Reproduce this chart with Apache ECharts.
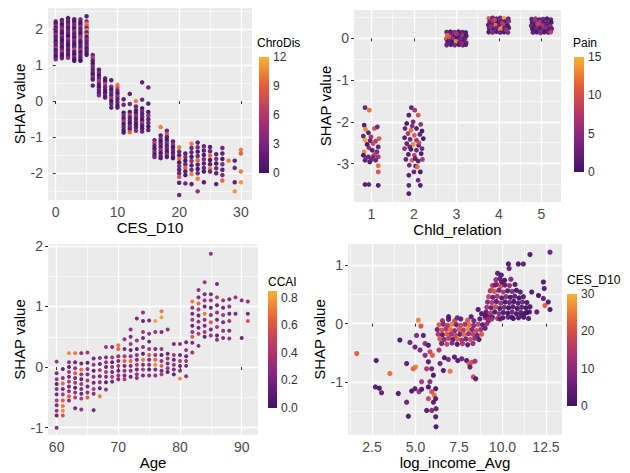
<!DOCTYPE html>
<html>
<head>
<meta charset="utf-8">
<script src="https://cdn.jsdelivr.net/npm/echarts@6/dist/echarts.min.js"></script>
<style>
  html, body { margin: 0; background: #fff; }
  #chart { width: 630px; height: 473px; }
</style>
</head>
<body>
<div id="chart"></div>
<script>
// [CES_D10, SHAP value, ChroDis]
const cesPoints = [
  [0,2.21,2],[0,2.15,0],[0,2.09,4],[0,2.03,1],[0,1.97,3],[0,1.9,0],[0,1.84,5],[0,1.78,1],[0,1.72,2],[0,1.65,0],[0,1.6,3],[0,1.53,1],[0,1.47,6],[0,1.41,0],[0,1.35,2],[0,1.28,1],[0,1.22,0],[0,1.16,3],
  [1,2.25,1],[1,2.18,3],[1,2.12,0],[1,2.05,2],[1,1.99,5],[1,1.93,1],[1,1.86,0],[1,1.8,4],[1,1.74,2],[1,1.68,0],[1,1.61,1],[1,1.55,3],[1,1.49,0],[1,1.43,2],[1,1.37,5],[1,1.3,1],[1,1.24,0],[1,1.19,2],
  [2,2.3,0],[2,2.23,2],[2,2.16,1],[2,2.1,4],[2,2.03,0],[2,1.97,2],[2,1.9,3],[2,1.84,1],[2,1.78,0],[2,1.71,6],[2,1.65,2],[2,1.58,1],[2,1.52,0],[2,1.46,3],[2,1.4,1],[2,1.33,2],[2,1.26,0],[2,1.2,4],
  [3,2.27,1],[3,2.2,0],[3,2.14,3],[3,2.07,2],[3,2.0,0],[3,1.94,5],[3,1.87,1],[3,1.81,2],[3,1.75,0],[3,1.68,4],[3,1.62,1],[3,1.55,0],[3,1.49,2],[3,1.42,7],[3,1.36,1],[3,1.29,0],[3,1.22,3],[3,1.16,1],[3,1.12,0],
  [4,2.26,2],[4,2.19,1],[4,2.13,0],[4,2.06,4],[4,2.0,1],[4,1.93,2],[4,1.87,0],[4,1.8,3],[4,1.74,6],[4,1.67,1],[4,1.61,0],[4,1.54,2],[4,1.48,1],[4,1.41,5],[4,1.35,0],[4,1.28,2],[4,1.21,1],[4,1.15,3],[4,1.12,0],
  [5,2.35,1],[5,2.21,3],[5,2.14,10],[5,2.08,9],[5,2.02,2],[5,1.96,11],[5,1.9,1],[5,1.84,8],[5,1.77,0],[5,1.71,4],[5,1.65,2],[5,1.58,1],[5,1.52,3],[5,1.46,0],[5,1.4,2],[5,1.34,1],[5,1.28,0],
  [6,1.28,2],[6,1.2,6],[6,1.12,1],[6,1.04,0],[6,0.96,3],[6,0.88,1],[6,0.8,2],[6,0.73,0],[6,0.66,4],[6,0.6,1],[6,0.43,1],
  [7,0.87,1],[7,0.79,3],[7,0.71,0],[7,0.63,2],[7,0.55,5],[7,0.47,1],[7,0.39,0],[7,0.31,2],[7,0.23,1],[7,0.16,3],
  [8,0.63,1],[8,0.55,0],[8,0.47,7],[8,0.39,2],[8,0.31,1],[8,0.23,0],[8,0.16,3],[8,0.1,1],
  [9,0.58,1],[9,0.4,3],[9,0.32,0],[9,0.24,2],[9,0.16,1],[9,0.08,5],[9,0.0,0],[9,-0.08,2],[9,-0.18,1],
  [10,0.45,10],[10,0.37,8],[10,0.29,2],[10,0.21,0],[10,0.13,4],[10,0.05,1],[10,-0.03,2],[10,-0.12,0],[10,-0.18,1],
  [11,0.05,1],[11,-0.1,2],[11,-0.32,0],[11,-0.4,3],[11,-0.48,1],[11,-0.56,5],[11,-0.64,0],[11,-0.72,2],[11,-0.8,1],[11,-0.87,0],
  [12,0.2,1],[12,-0.08,2],[12,-0.3,0],[12,-0.38,6],[12,-0.46,1],[12,-0.54,2],[12,-0.62,0],[12,-0.7,3],[12,-0.78,1],[12,-0.86,9],
  [13,0.0,10],[13,-0.15,2],[13,-0.25,1],[13,-0.33,0],[13,-0.41,4],[13,-0.49,1],[13,-0.57,2],[13,-0.65,0],[13,-0.73,1],[13,-0.82,3],
  [14,0.52,1],[14,0.04,2],[14,-0.2,0],[14,-0.28,3],[14,-0.36,1],[14,-0.44,2],[14,-0.52,0],[14,-0.6,5],[14,-0.68,1],[14,-0.76,0],[14,-0.84,2],
  [15,0.38,2],[15,-0.07,1],[15,-0.3,0],[15,-0.4,4],[15,-0.5,1],[15,-0.6,2],[15,-0.7,0],[15,-0.8,1],
  [16,-1.08,2],[16,-1.16,6],[16,-1.24,1],[16,-1.32,0],[16,-1.4,3],[16,-1.48,1],[16,-1.55,2],
  [17,-0.72,10],[17,-0.95,1],[17,-1.04,3],[17,-1.12,0],[17,-1.2,2],[17,-1.28,1],[17,-1.36,5],[17,-1.44,0],[17,-1.52,2],[17,-1.58,1],
  [18,-0.82,2],[18,-0.92,8],[18,-1.0,1],[18,-1.08,0],[18,-1.16,3],[18,-1.24,1],[18,-1.32,2],[18,-1.4,0],[18,-1.48,4],[18,-1.55,1],
  [19,-1.12,1],[19,-1.2,5],[19,-1.28,0],[19,-1.36,2],[19,-1.44,1],[19,-1.52,3],[19,-1.58,0],
  [20,-1.28,10],[20,-1.4,2],[20,-1.5,1],[20,-1.6,9],[20,-1.7,0],[20,-1.8,3],[20,-1.9,1],[20,-2.0,2],[20,-2.1,8],[20,-2.26,1],[20,-2.6,2],
  [21,-1.45,1],[21,-1.55,3],[21,-1.65,0],[21,-1.75,2],[21,-1.85,9],[21,-1.95,1],[21,-2.05,0],[21,-2.28,2],
  [22,-1.18,10],[22,-1.3,2],[22,-1.42,1],[22,-1.54,0],[22,-1.66,4],[22,-1.78,1],[22,-1.9,2],[22,-2.02,10],[22,-2.3,1],
  [23,-1.15,1],[23,-1.28,3],[23,-1.4,0],[23,-1.52,2],[23,-1.64,9],[23,-1.76,1],[23,-1.88,0],[23,-2.0,2],[23,-2.15,10],[23,-2.5,4],
  [24,-1.25,2],[24,-1.37,1],[24,-1.49,0],[24,-1.61,3],[24,-1.73,1],[24,-1.85,2],[24,-1.95,0],[24,-2.25,1],
  [25,-1.27,1],[25,-1.39,2],[25,-1.51,9],[25,-1.63,0],[25,-1.75,1],[25,-1.87,10],[25,-1.95,2],
  [26,-1.47,1],[26,-1.6,3],[26,-1.73,0],[26,-1.86,2],[26,-2.0,1],[26,-2.3,1],
  [27,-1.3,2],[27,-1.45,1],[27,-1.6,0],[27,-1.75,3],[27,-1.9,1],[27,-2.05,2],[27,-2.2,9],
  [28,-1.65,10],
  [29,-1.65,1],[29,-1.85,2],[29,-2.25,1],[29,-2.5,11],
  [30,-1.35,10],[30,-1.45,9],[30,-1.95,10],[30,-2.25,11]
];

// [Chld_relation (jittered), SHAP value, Pain]
const chldPoints = [
  [0.85,-1.66,2],[0.95,-1.72,12],[0.83,-2.08,1],[0.86,-2.18,13],[1.07,-2.16,10],[1.14,-2.12,3],[0.93,-2.26,1],[0.81,-2.34,2],[0.99,-2.36,6],[0.85,-2.44,14],[1.1,-2.46,7],[1.18,-2.4,11],[0.9,-2.54,0],[1.04,-2.52,9],[1.16,-2.6,2],[0.94,-2.62,5],[0.83,-2.72,13],[1.02,-2.68,1],[1.13,-2.72,3],[0.81,-2.8,0],[0.93,-2.84,2],[1.05,-2.82,1],[1.16,-2.84,6],[0.85,-2.92,1],[0.96,-2.96,0],[1.1,-2.92,2],[1.16,-3.05,12],[1.16,-3.2,10],[0.85,-3.5,1],[0.94,-3.5,2],[1.16,-3.52,1],[0.88,-2.86,4],[1.0,-2.9,3],[1.08,-2.78,8],[0.97,-2.45,2],
  [1.94,-1.66,2],[2.02,-1.72,6],[1.88,-1.84,1],[2.1,-1.84,10],[1.83,-2.04,0],[1.98,-2.0,3],[2.16,-2.06,5],[1.79,-2.16,2],[1.93,-2.2,12],[2.06,-2.16,1],[2.19,-2.22,0],[1.86,-2.28,7],[2.01,-2.32,11],[2.14,-2.3,2],[1.78,-2.38,1],[1.91,-2.42,3],[2.06,-2.44,6],[2.22,-2.4,0],[1.83,-2.52,2],[1.98,-2.54,13],[2.11,-2.56,1],[1.78,-2.64,5],[1.93,-2.66,0],[2.06,-2.68,2],[2.19,-2.64,3],[1.87,-2.78,1],[2.01,-2.8,8],[2.17,-2.76,0],[1.81,-2.9,2],[1.95,-2.92,11],[2.1,-2.94,1],[1.89,-3.04,3],[2.04,-3.06,0],[2.08,-3.08,12],[1.88,-3.28,1],[2.0,-3.2,2],[2.15,-3.2,0],[2.1,-3.4,3],[2.15,-3.52,1],[1.88,-3.52,2],[1.88,-3.72,1],[1.96,-2.1,4],[2.12,-2.5,9],[1.9,-2.6,2],[2.03,-2.88,1],[2.2,-2.9,6],
  [2.77,0.15,2],[2.86,0.16,1],[2.95,0.15,4],[3.05,0.16,0],[3.14,0.15,2],[3.22,0.14,1],[2.78,0.07,12],[2.88,0.08,3],[2.97,0.06,1],[3.07,0.08,2],[3.16,0.07,6],[3.23,0.06,0],[2.76,-0.01,10],[2.84,0.0,2],[2.93,-0.02,5],[3.02,0.01,1],[3.11,-0.01,3],[3.2,0.0,2],[2.79,-0.08,1],[2.89,-0.09,0],[2.99,-0.07,13],[3.08,-0.09,2],[3.17,-0.08,1],[3.23,-0.1,4],[2.77,-0.16,2],[2.87,-0.15,1],[2.96,-0.16,3],[3.06,-0.15,0],[3.15,-0.16,2],[3.22,-0.15,1],[2.82,0.04,11],[3.0,0.11,7],[3.12,-0.12,5],
  [3.76,0.48,11],[3.85,0.49,2],[3.94,0.47,1],[4.03,0.49,3],[4.12,0.48,14],[4.22,0.47,2],[3.78,0.4,3],[3.87,0.41,6],[3.96,0.39,0],[4.05,0.41,2],[4.14,0.4,1],[4.23,0.41,5],[3.75,0.32,1],[3.84,0.33,2],[3.93,0.31,12],[4.02,0.33,1],[4.11,0.32,7],[4.2,0.31,0],[3.77,0.24,2],[3.86,0.23,0],[3.95,0.25,3],[4.04,0.23,13],[4.13,0.24,2],[4.23,0.25,1],[3.76,0.15,0],[3.85,0.14,4],[3.94,0.16,1],[4.03,0.14,2],[4.12,0.15,0],[4.21,0.14,3],[3.9,0.44,9],[4.08,0.36,8],[3.81,0.28,5],[4.17,0.2,6],
  [4.77,0.46,2],[4.86,0.47,5],[4.95,0.45,1],[5.04,0.46,3],[5.13,0.47,0],[5.22,0.45,2],[4.78,0.38,1],[4.87,0.37,3],[4.96,0.39,7],[5.05,0.38,1],[5.14,0.37,2],[5.23,0.38,0],[4.76,0.3,3],[4.85,0.31,0],[4.94,0.29,2],[5.03,0.31,6],[5.12,0.3,1],[5.21,0.29,4],[4.79,0.22,0],[4.88,0.21,2],[4.97,0.23,1],[5.06,0.21,3],[5.15,0.22,0],[5.24,0.23,2],[4.8,0.14,2],[4.89,0.15,1],[4.98,0.13,4],[5.07,0.15,0],[5.16,0.14,2],[5.22,0.15,8],[4.91,0.34,9],[5.1,0.26,5]
];

// [Age, SHAP value, CCAI]
const agePoints = [
  [60,0.09,0.3],[60,-0.1,0.2],[60,-0.2,0.35],[60,-0.28,0.1],[60,-0.36,0.3],[60,-0.45,0.15],[60,-0.55,0.4],[60,-0.63,0.2],[60,-0.72,0.3],[60,-0.8,0.1],[60,-1.0,0.25],
  [61,-0.03,0.1],[61,-0.18,0.3],[61,-0.27,0.65],[61,-0.36,0.2],[61,-0.45,0.35],[61,-0.55,0.6],[61,-0.64,0.7],[61,-0.72,0.75],[61,-0.8,0.55],
  [62,0.23,0.75],[62,0.08,0.3],[62,0.0,0.1],[62,-0.08,0.35],[62,-0.16,0.2],[62,-0.24,0.4],[62,-0.32,0.15],[62,-0.4,0.3],[62,-0.48,0.6],[62,-0.55,0.25],
  [63,0.23,0.7],[63,0.08,0.15],[63,-0.02,0.3],[63,-0.1,0.6],[63,-0.18,0.2],[63,-0.26,0.35],[63,-0.34,0.1],[63,-0.42,0.3],[63,-0.5,0.4],[63,-0.68,0.2],
  [64,0.23,0.3],[64,0.06,0.2],[64,-0.04,0.65],[64,-0.12,0.3],[64,-0.2,0.1],[64,-0.28,0.35],[64,-0.36,0.25],[64,-0.44,0.15],[64,-0.52,0.4],[64,-0.7,0.3],
  [65,0.24,0.35],[65,0.07,0.1],[65,-0.03,0.3],[65,-0.12,0.2],[65,-0.22,0.4],[65,-0.32,0.15],[65,-0.42,0.3],[65,-0.5,0.6],
  [66,0.14,0.2],[66,0.04,0.35],[66,-0.06,0.1],[66,-0.16,0.3],[66,-0.26,0.2],[66,-0.36,0.4],[66,-0.44,0.25],[66,-0.71,0.15],
  [67,0.15,0.3],[67,0.05,0.15],[67,-0.05,0.35],[67,-0.15,0.2],[67,-0.25,0.3],[67,-0.35,0.1],[67,-0.48,0.7],
  [68,0.33,0.35],[68,0.16,0.2],[68,0.08,0.3],[68,0.0,0.15],[68,-0.08,0.4],[68,-0.16,0.25],[68,-0.25,0.1],[68,-0.37,0.3],
  [69,0.33,0.2],[69,0.16,0.35],[69,0.08,0.1],[69,0.0,0.3],[69,-0.08,0.2],[69,-0.16,0.4],[69,-0.24,0.15],
  [70,0.36,0.7],[70,0.3,0.65],[70,0.18,0.3],[70,0.1,0.2],[70,0.02,0.35],[70,-0.06,0.15],[70,-0.14,0.3],[70,-0.2,0.2],
  [71,0.46,0.3],[71,0.3,0.2],[71,0.18,0.35],[71,0.1,0.6],[71,0.02,0.15],[71,-0.06,0.3],[71,-0.14,0.2],[71,-0.2,0.35],
  [72,0.62,0.3],[72,0.5,0.2],[72,0.38,0.35],[72,0.28,0.1],[72,0.18,0.3],[72,0.1,0.65],[72,0.02,0.2],[72,-0.06,0.3],[72,-0.16,0.15],
  [73,0.8,0.2],[73,0.44,0.35],[73,0.3,0.1],[73,0.2,0.3],[73,0.12,0.2],[73,0.04,0.4],[73,-0.04,0.15],[73,-0.12,0.3],[73,-0.18,0.25],
  [74,0.9,0.3],[74,0.76,0.15],[74,0.58,0.35],[74,0.48,0.2],[74,0.33,0.3],[74,0.22,0.1],[74,0.12,0.7],[74,0.04,0.25],[74,-0.04,0.35],[74,-0.14,0.2],
  [75,0.77,0.2],[75,0.55,0.3],[75,0.42,0.15],[75,0.3,0.35],[75,0.2,0.6],[75,0.12,0.2],[75,0.04,0.3],[75,-0.04,0.1],[75,-0.14,0.3],
  [76,0.76,0.8],[76,0.58,0.3],[76,0.3,0.2],[76,0.2,0.35],[76,0.12,0.65],[76,0.04,0.75],[76,-0.04,0.2],[76,-0.14,0.3],
  [77,0.92,0.7],[77,0.82,0.8],[77,0.58,0.2],[77,0.3,0.35],[77,0.2,0.1],[77,0.1,0.3],[77,0.02,0.6],[77,-0.06,0.2],[77,-0.12,0.35],
  [78,0.62,0.3],[78,0.22,0.15],[78,0.14,0.35],[78,0.06,0.2],[78,-0.02,0.3],[78,-0.08,0.1],
  [79,0.38,0.2],[79,0.2,0.35],[79,0.12,0.15],[79,0.04,0.3],[79,-0.04,0.2],[79,-0.12,0.1],
  [80,0.38,0.3],[80,0.2,0.2],[80,0.1,0.4],[80,0.02,0.15],[80,-0.06,0.3],[80,-0.19,0.75],
  [81,0.41,0.2],[81,0.28,0.3],[81,0.18,0.15],[81,0.1,0.35],[81,0.02,0.2],[81,-0.15,0.3],
  [82,1.08,0.7],[82,0.98,0.3],[82,0.88,0.2],[82,0.78,0.35],[82,0.68,0.15],[82,0.58,0.3],[82,0.5,0.6],[82,0.4,0.2],[82,0.24,0.3],
  [83,1.27,0.3],[83,1.15,0.2],[83,1.05,0.65],[83,0.95,0.35],[83,0.85,0.15],[83,0.75,0.3],[83,0.65,0.2],[83,0.55,0.4],[83,0.35,0.25],
  [84,1.4,0.35],[84,1.2,0.2],[84,1.1,0.3],[84,1.0,0.15],[84,0.88,0.7],[84,0.78,0.3],[84,0.68,0.2],[84,0.58,0.35],[84,0.5,0.1],
  [85,1.87,0.3],[85,1.2,0.2],[85,1.1,0.35],[85,0.98,0.15],[85,0.86,0.3],[85,0.74,0.6],[85,0.62,0.2],[85,0.52,0.3],
  [86,1.37,0.2],[86,1.15,0.35],[86,1.02,0.15],[86,0.9,0.3],[86,0.78,0.2],[86,0.66,0.4],[86,0.52,0.1],[86,0.45,0.3],
  [87,1.1,0.3],[87,0.98,0.15],[87,0.86,0.35],[87,0.74,0.2],[87,0.6,0.3],[87,0.48,0.25],
  [88,1.12,0.2],[88,1.0,0.3],[88,0.88,0.15],[88,0.76,0.35],[88,0.6,0.2],[88,0.47,0.3],
  [89,1.15,0.3],[89,0.88,0.2],
  [90,1.1,0.25],[90,0.48,0.15],
  [91,1.08,0.3],[91,0.88,0.2],[91,0.76,0.55]
];

// [log_income_Avg, SHAP value, CES_D10]
const incomePoints = [
  [1.62,-0.51,22],[2.74,-0.63,2],[2.69,-1.08,3],[2.92,-1.1,1],[3.05,-1.18,4],[3.53,-0.85,24],[4.01,-1.19,2],[4.1,-0.28,1],[4.49,-0.68,3],[4.49,-1.34,5],[4.59,-1.58,2],[4.68,-0.32,6],[4.87,-0.77,22],[5.0,-0.74,25],[4.78,-1.15,1],[4.97,-1.11,3],[5.2,-1.16,12],[5.35,-1.12,2],[5.06,-0.2,8],[5.16,0.06,26],[5.31,-0.04,20],[5.45,-0.2,4],[5.55,-0.34,10],[5.74,-0.37,2],[5.83,-0.48,18],[5.97,-0.54,22],[5.74,-0.65,3],[5.64,-0.77,15],[5.93,-0.77,6],[6.03,-0.88,2],[5.83,-0.99,10],[5.74,-1.08,1],[5.93,-1.16,20],[6.08,-1.22,24],[5.74,-1.28,18],[6.03,-1.34,3],[6.16,-1.11,1],[6.16,-1.28,2],[6.18,-1.45,4],[5.93,-1.48,8],[5.64,-1.48,2],[6.16,-1.59,3],[6.18,-1.76,1],[5.35,-0.99,14],[4.97,-0.4,5],[5.55,-0.54,9],[5.26,-0.45,7],
  [6.66,-0.58,2],[6.89,-0.61,8],[7.24,-0.57,3],[7.43,-0.63,1],[7.66,-0.6,6],[7.94,-0.63,2],[8.08,-0.68,22],[8.23,-0.66,20],[8.13,-0.74,4],[8.42,-0.64,12],[8.32,-0.91,18],[8.46,-0.94,3],[6.99,-0.81,25],[6.6,-0.8,2],[6.41,-0.68,5],[6.35,-0.45,14],
  [6.55,0.05,12],[6.9,0.07,4],[7.25,0.05,18],[7.6,0.08,3],[8.0,0.06,20],[8.35,0.05,6],[8.7,0.08,2],[9.0,0.1,15],
  [6.35,-0.02,22],[6.6,-0.01,8],[6.85,-0.03,15],[7.1,-0.01,25],[7.35,-0.02,5],[7.6,-0.03,19],[7.85,-0.01,12],[8.1,-0.02,24],[8.35,-0.03,9],[8.6,-0.01,17],[8.85,-0.02,3],[9.1,0.0,11],
  [6.25,-0.1,6],[6.5,-0.11,20],[6.75,-0.09,13],[7.0,-0.1,24],[7.25,-0.12,9],[7.5,-0.1,21],[7.75,-0.11,14],[8.0,-0.09,26],[8.25,-0.1,7],[8.5,-0.12,19],[8.75,-0.1,12],[9.0,-0.08,4],
  [6.3,-0.18,14],[6.55,-0.19,3],[6.8,-0.17,22],[7.05,-0.18,11],[7.3,-0.2,17],[7.55,-0.18,4],[7.8,-0.19,23],[8.05,-0.17,10],[8.3,-0.18,16],[8.55,-0.2,5],[8.8,-0.18,21],
  [6.4,-0.26,20],[6.65,-0.27,9],[6.9,-0.25,16],[7.15,-0.27,3],[7.4,-0.26,22],[7.65,-0.28,13],[7.9,-0.26,6],[8.15,-0.27,19],[8.4,-0.25,11],[8.65,-0.27,2],
  [6.5,-0.34,5],[6.8,-0.35,17],[7.1,-0.33,8],[7.4,-0.35,1],[7.7,-0.34,14],[8.0,-0.36,3],[8.3,-0.34,10],
  [6.9,0.12,2],[7.4,0.1,6],[8.2,0.12,3],[9.2,0.05,8],[9.25,0.15,3],[8.6,0.24,2],[8.8,0.17,1],[9.05,0.2,12],
  [9.72,0.86,3],[9.93,0.83,2],
  [9.62,0.75,12],[9.85,0.77,4],[10.12,0.74,1],[10.48,0.76,8],
  [9.42,0.65,16],[9.66,0.67,9],[9.9,0.64,20],[10.14,0.66,3],[10.4,0.65,11],[10.72,0.67,2],
  [9.3,0.56,10],[9.55,0.55,22],[9.8,0.57,6],[10.05,0.54,14],[10.3,0.56,2],[10.56,0.55,9],[10.8,0.57,1],[11.02,0.54,3],
  [9.2,0.46,18],[9.45,0.45,5],[9.7,0.47,13],[9.96,0.44,2],[10.2,0.46,10],[10.45,0.45,1],[10.7,0.47,4],[10.95,0.44,0],[11.2,0.46,2],
  [9.14,0.37,8],[9.4,0.36,15],[9.65,0.38,3],[9.9,0.35,11],[10.15,0.37,1],[10.4,0.36,5],[10.65,0.38,0],[10.9,0.35,2],[11.15,0.37,6],[11.4,0.36,1],
  [9.1,0.28,13],[9.35,0.27,4],[9.6,0.29,19],[9.85,0.26,2],[10.1,0.28,7],[10.35,0.27,0],[10.6,0.29,3],[10.85,0.26,1],[11.1,0.28,4],[11.35,0.27,0],[11.58,0.29,2],
  [9.06,0.19,5],[9.3,0.18,16],[9.55,0.2,1],[9.8,0.17,9],[10.05,0.19,2],[10.3,0.18,0],[10.55,0.2,6],[10.8,0.17,1],[11.05,0.19,3],[11.3,0.18,0],[11.55,0.2,2],
  [9.12,0.1,9],[9.42,0.11,2],[9.72,0.09,14],[10.02,0.1,1],[10.32,0.11,4],[10.62,0.09,0],[10.92,0.1,2],[11.22,0.11,1],[11.5,0.09,3],
  [10.34,1.02,2],[10.38,0.94,4],[10.91,1.02,1],[11.2,1.02,3],[11.58,1.18,2],[12.73,1.22,5],[12.35,0.71,1],[12.4,0.6,3],[11.68,0.54,2],[12.07,0.48,0],[12.35,0.43,4],[12.44,0.31,22],[12.63,0.37,2],[12.73,0.24,1],[11.97,0.2,3],[11.4,0.19,0],[11.1,0.14,2],[10.53,0.11,1],[9.86,0.08,3],[9.38,0.08,12],[9.0,0.14,2],[9.38,0.57,20],[9.57,0.66,6],[9.95,0.71,2]
];

// tick labels
const cesTicks = [0, 10, 20, 30];
const chldTicks = [1, 2, 3, 4, 5];
const ageTicks = [60, 70, 80, 90];
const incomeTicks = [2.5, 5, 7.5, 10, 12.5];
const shapTicks = [[-2, -1, 0, 1, 2], [-3, -2, -1, 0], [-1, 0, 1, 2], [-1, 0, 1]];
const chroDisTicks = [0, 3, 6, 9, 12];
const painTicks = [0, 5, 10, 15];
const ccaiTicks = [0, 0.2, 0.4, 0.6, 0.8];
const cesColorTicks = [0, 10, 20, 30];

const incomeStep = 2.5; // x axis of panel 4 is laid out in steps of 2.5
const palette = ['#3f1366', '#7b2382', '#b5356b', '#e65c3b', '#f8b235'];
const font = 'Liberation Sans, Arial, sans-serif';

const panels = [
  { xName: 'CES_D10', data: cesPoints, xTicks: cesTicks, xFmt: v => String(v),
    grid: { left: 48, top: 8, width: 204, height: 192 }, x: [-1.25, 31.8, 3], y: [-2.74, 2.58, 5], xGap: 20, yGap: 20,
    cName: 'ChroDis', cMax: 12, cTicks: chroDisTicks, cFmt: v => String(v), cSplit: 4,
    bar: { left: 259, top: 57, width: 10, height: 116 }, title: [257, 37], size: 4.5 },
  { xName: 'Chld_relation', data: chldPoints, xTicks: chldTicks, xFmt: v => String(v),
    grid: { left: 354, top: 10, width: 207, height: 192 }, x: [0.59, 5.46, 5], y: [-3.92, 0.68, 4], xGap: 18, yGap: 19,
    cName: 'Pain', cMax: 15, cTicks: painTicks, cFmt: v => String(v), cSplit: 3,
    bar: { left: 574, top: 57, width: 10, height: 115 }, title: [573, 37], size: 4.8 },
  { xName: 'Age', data: agePoints, xTicks: ageTicks, xFmt: v => String(v),
    grid: { left: 48, top: 244, width: 210, height: 191 }, x: [58.6, 92.65, 3], y: [-1.12, 2.03, 3], xGap: 20, yGap: 20,
    cName: 'CCAI', cMax: 0.85, cTicks: ccaiTicks, cFmt: v => v.toFixed(1), cSplit: 4,
    bar: { left: 268, top: 291, width: 9, height: 117 }, title: [268, 276], size: 4 },
  { xName: 'log_income_Avg', data: incomePoints.map(p => [p[0] / incomeStep, p[1], p[2]]),
    xTicks: incomeTicks.map(v => v / incomeStep), xFmt: v => (v * incomeStep).toFixed(1),
    grid: { left: 348, top: 244, width: 214, height: 191 }, x: [1.12 / incomeStep, 13.42 / incomeStep, 5], y: [-1.9, 1.36, 3], xGap: 20, yGap: 17,
    cName: 'CES_D10', cMax: 30, cTicks: cesColorTicks, cFmt: v => String(v), cSplit: 3,
    bar: { left: 567, top: 294, width: 10, height: 112 }, title: [567, 274], size: 5.2 }
];

const tickLabel = { fontSize: 14, color: '#4d4d4d', fontFamily: font };
const axisName = { fontSize: 15, color: '#000', fontFamily: font };
const whiteMajor = { show: true, lineStyle: { color: '#ffffff', width: 1.3 } };
const whiteMinor = { show: true, lineStyle: { color: '#ffffff', width: 0.6 } };

const grid = [], xAxis = [], yAxis = [], series = [], visualMap = [], title = [];

panels.forEach((p, i) => {
  grid.push(Object.assign({ show: true, backgroundColor: '#ebebeb', borderWidth: 0 }, p.grid));
  xAxis.push({
    type: 'value', gridIndex: i, min: p.x[0], max: p.x[1], splitNumber: p.x[2],
    name: p.xName, nameLocation: 'middle', nameGap: p.xGap, nameTextStyle: axisName,
    axisLine: { show: false },
    axisTick: { show: true, length: 3, lineStyle: { color: '#333' }, customValues: p.xTicks },
    axisLabel: Object.assign({ margin: 5, customValues: p.xTicks, formatter: p.xFmt }, tickLabel),
    splitLine: whiteMajor, minorTick: { show: false, splitNumber: 2 }, minorSplitLine: whiteMinor
  });
  yAxis.push({
    type: 'value', gridIndex: i, min: p.y[0], max: p.y[1], splitNumber: p.y[2],
    name: 'SHAP value', nameLocation: 'middle', nameGap: p.yGap, nameTextStyle: axisName,
    axisLine: { show: false },
    axisTick: { show: true, length: 3, lineStyle: { color: '#333' }, customValues: shapTicks[i] },
    axisLabel: Object.assign({ margin: 5, customValues: shapTicks[i] }, tickLabel),
    splitLine: whiteMajor, minorTick: { show: false, splitNumber: 2 }, minorSplitLine: whiteMinor
  });
  series.push({
    type: 'scatter', xAxisIndex: i, yAxisIndex: i, data: p.data,
    symbolSize: p.size, itemStyle: { opacity: 0.95 }, silent: true
  });
  visualMap.push({
    type: 'continuous', show: false, seriesIndex: i, dimension: 2,
    min: 0, max: p.cMax, inRange: { color: palette }
  });
  title.push({
    text: p.cName, left: p.title[0], top: p.title[1], padding: 0,
    textStyle: { fontSize: 12, fontWeight: 'normal', color: '#000', fontFamily: font }
  });
});

// colour bars: one small grid per legend, labelled by its own axis
panels.forEach((p, i) => {
  const k = panels.length + i;
  grid.push(p.bar);
  xAxis.push({ type: 'category', gridIndex: k, data: [p.cName], show: false });
  yAxis.push({
    type: 'value', gridIndex: k, min: 0, max: p.cMax, splitNumber: p.cSplit, position: 'right',
    axisLine: { show: false }, splitLine: { show: false },
    axisTick: { show: true, inside: true, length: 2, lineStyle: { color: '#fff' }, customValues: p.cTicks },
    axisLabel: { margin: 4, fontSize: 12, color: '#333', fontFamily: font, customValues: p.cTicks, formatter: p.cFmt }
  });
  series.push({
    type: 'bar', xAxisIndex: k, yAxisIndex: k, data: [p.cMax], barWidth: '100%', silent: true,
    itemStyle: {
      color: new echarts.graphic.LinearGradient(0, 1, 0, 0,
        palette.map((c, j) => ({ offset: j / (palette.length - 1), color: c })))
    }
  });
});

const chart = echarts.init(document.getElementById('chart'), null, { renderer: 'svg' });
chart.setOption({
  animation: false,
  backgroundColor: '#fff',
  textStyle: { fontFamily: font },
  title, grid, xAxis, yAxis, visualMap, series
});
</script>
</body>
</html>
